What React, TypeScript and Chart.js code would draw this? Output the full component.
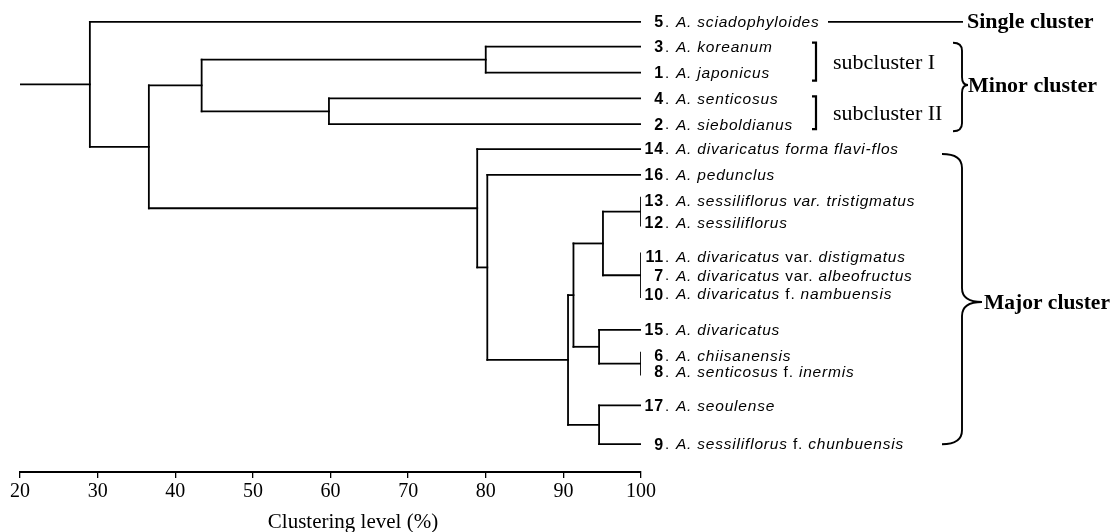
import React, { useEffect, useRef } from "react";
import { Chart, registerables } from "chart.js";

Chart.register(...registerables);

// ---- data ----
const leafIds = [5, 3, 1, 4, 2, 14, 16, 13, 12, 11, 7, 10, 15, 6, 8, 17, 9];
// vertical row position of each leaf (0 = top, 475 = axis)
const leafPos = [22, 47, 73, 99, 125, 150, 176, 202, 224, 258, 277, 296, 332, 358, 374, 408, 447];
// parts between | are upright, the rest italic
const leafNames = [
  "A. sciadophyloides",
  "A. koreanum",
  "A. japonicus",
  "A. senticosus",
  "A. sieboldianus",
  "A. divaricatus forma flavi-flos",
  "A. pedunclus",
  "A. sessiliflorus var. tristigmatus",
  "A. sessiliflorus",
  "A. divaricatus |var.| distigmatus",
  "A. divaricatus |var.| albeofructus",
  "A. divaricatus |f.| nambuensis",
  "A. divaricatus",
  "A. chiisanensis",
  "A. senticosus |f.| inermis",
  "A. seoulense",
  "A. sessiliflorus |f.| chunbuensis",
];
// merges: children (leaf ids or n<index>) and clustering level (%)
const mergeChildren = [
  ["13", "12"],
  ["11", "7", "10"],
  ["6", "8"],
  ["n0", "n1"],
  ["15", "n2"],
  ["n3", "n4"],
  ["17", "9"],
  ["n5", "n6"],
  ["16", "n7"],
  ["14", "n8"],
  ["3", "1"],
  ["4", "2"],
  ["n10", "n11"],
  ["n12", "n9"],
  ["5", "n13"],
];
const mergeLevels = [100, 100, 100, 95.1, 94.6, 91.3, 94.6, 90.6, 80.2, 78.9, 80.0, 59.8, 43.4, 36.6, 29.0];
const xTicks = [20, 30, 40, 50, 60, 70, 80, 90, 100];
const axisTitle = "Clustering level (%)";
const clusterLabels = ["Single cluster", "Minor cluster", "Major cluster"];
const subclusterLabels = ["subcluster I", "subcluster II"];

const SANS = '"Liberation Sans", Arial, sans-serif';
const SERIF = '"Liberation Serif", "Times New Roman", serif';

type P = { x: number; y: number };

function buildSegments(): P[][] {
  const pos: Record<string, P> = {};
  leafIds.forEach((id, i) => (pos[String(id)] = { x: 100, y: leafPos[i] }));
  const segs: P[][] = [];
  mergeChildren.forEach((ch, i) => {
    const h = mergeLevels[i];
    const kids = ch.map((c) => pos[c]);
    const ys = kids.map((k) => k.y);
    const top = Math.min(...ys);
    const bot = Math.max(...ys);
    const ext = h >= 100 ? 3 : 0;
    segs.push([
      { x: h, y: top - ext },
      { x: h, y: bot + ext },
    ]);
    kids.forEach((k) => {
      if (k.x > h) segs.push([{ x: h, y: k.y }, { x: k.x, y: k.y }]);
    });
    pos["n" + i] = { x: h, y: (top + bot) / 2 };
  });
  const root = pos["n" + (mergeChildren.length - 1)];
  segs.push([
    { x: xTicks[0], y: root.y },
    { x: root.x, y: root.y },
  ]);
  return segs;
}

function drawBrace(ctx: CanvasRenderingContext2D, x: number, yTop: number, yBot: number, yTip: number, w: number, tip: number, r: number) {
  ctx.beginPath();
  ctx.moveTo(x - w, yTop);
  ctx.quadraticCurveTo(x, yTop, x, yTop + r);
  ctx.lineTo(x, yTip - r);
  ctx.quadraticCurveTo(x, yTip, x + tip, yTip);
  ctx.moveTo(x + tip, yTip);
  ctx.quadraticCurveTo(x, yTip, x, yTip + r);
  ctx.lineTo(x, yBot - r);
  ctx.quadraticCurveTo(x, yBot, x - w, yBot);
  ctx.stroke();
}

function drawBracket(ctx: CanvasRenderingContext2D, x: number, yTop: number, yBot: number) {
  ctx.beginPath();
  ctx.moveTo(x - 4, yTop);
  ctx.lineTo(x, yTop);
  ctx.lineTo(x, yBot);
  ctx.lineTo(x - 4, yBot);
  ctx.stroke();
}

const annotationPlugin = {
  id: "dendroText",
  afterDraw(chart: any) {
    const ctx: CanvasRenderingContext2D = chart.ctx;
    const xs = chart.scales.x;
    const ys = chart.scales.y;
    ctx.save();
    ctx.fillStyle = "#000";
    ctx.strokeStyle = "#000";
    ctx.textBaseline = "middle";
    (ctx as any).letterSpacing = "0.8px";

    // leaf labels
    const numRight = xs.getPixelForValue(100) + 23;
    leafIds.forEach((id, i) => {
      const y = ys.getPixelForValue(leafPos[i]) + 1;
      ctx.font = `bold 16px ${SANS}`;
      ctx.textAlign = "right";
      ctx.fillText(String(id), numRight, y);
      ctx.textAlign = "left";
      let x = numRight + 1;
      ctx.font = `15px ${SANS}`;
      ctx.fillText(". ", x, y);
      x += ctx.measureText(". ").width + 1;
      const parts = leafNames[i].split("|");
      parts.forEach((p, k) => {
        ctx.font = (k % 2 === 0 ? "italic " : "") + `15.5px ${SANS}`;
        ctx.fillText(p, x, y);
        x += ctx.measureText(p).width;
      });
    });
    (ctx as any).letterSpacing = "0px";

    // single cluster
    const y5 = ys.getPixelForValue(leafPos[0]);
    ctx.lineWidth = 1.8;
    ctx.beginPath();
    ctx.moveTo(828, y5);
    ctx.lineTo(963, y5);
    ctx.stroke();
    ctx.font = `bold 22px ${SERIF}`;
    ctx.fillText(clusterLabels[0], 967, y5);

    // subclusters
    ctx.lineWidth = 2.2;
    const y3 = ys.getPixelForValue(leafPos[1]);
    const y1 = ys.getPixelForValue(leafPos[2]);
    const y4 = ys.getPixelForValue(leafPos[3]);
    const y2 = ys.getPixelForValue(leafPos[4]);
    drawBracket(ctx, 816, y3 - 4, y1 + 8);
    drawBracket(ctx, 816, y4 - 2, y2 + 5);
    ctx.font = `22px ${SERIF}`;
    ctx.fillText(subclusterLabels[0], 833, (y3 + y1) / 2 + 4);
    ctx.fillText(subclusterLabels[1], 833, (y4 + y2) / 2 + 3);

    // minor brace
    ctx.lineWidth = 1.9;
    drawBrace(ctx, 962, y3 - 4, y2 + 7, 85, 9, 6, 8);
    ctx.font = `bold 22px ${SERIF}`;
    ctx.fillText(clusterLabels[1], 968, 86);

    // major brace
    const y14 = ys.getPixelForValue(leafPos[5]);
    const y9 = ys.getPixelForValue(leafPos[16]);
    drawBrace(ctx, 962, y14 + 5, y9, 302, 20, 20, 14);
    ctx.font = `bold 21.5px ${SERIF}`;
    ctx.fillText(clusterLabels[2], 984, 303);

    // axis title
    ctx.font = `21px ${SERIF}`;
    ctx.textAlign = "center";
    ctx.fillText(axisTitle, 353, 522);
    ctx.restore();
  },
};

export default function App() {
  const ref = useRef<HTMLCanvasElement | null>(null);
  useEffect(() => {
    if (!ref.current) return;
    const segs = buildSegments();
    const chart = new Chart(ref.current, {
      type: "scatter",
      data: {
        datasets: segs.map((s) => ({
          data: s,
          showLine: true,
          borderColor: "#000",
          borderWidth: 1.8,
          borderCapStyle: "square",
          pointRadius: 0,
          pointHoverRadius: 0,
        })),
      },
      options: {
        animation: false,
        responsive: true,
        maintainAspectRatio: false,
        layout: { padding: { left: 20, right: 473, top: 0, bottom: 26 } },
        plugins: { legend: { display: false }, tooltip: { enabled: false } },
        scales: {
          x: {
            type: "linear",
            min: 20,
            max: 100,
            afterBuildTicks: (s: any) => {
              s.ticks = xTicks.map((v) => ({ value: v }));
            },
            ticks: {
              color: "#000",
              font: { family: SERIF, size: 20 },
              padding: 2,
              maxRotation: 0,
              autoSkip: false,
            },
            grid: {
              display: true,
              drawOnChartArea: false,
              drawTicks: true,
              tickLength: 6,
              color: "#000",
              lineWidth: 1.3,
            },
            border: { display: true, color: "#000", width: 2 },
          },
          y: { type: "linear", min: 0, max: 475, reverse: true, display: false },
        },
      } as any,
      plugins: [annotationPlugin],
    });
    return () => chart.destroy();
  }, []);
  return (
    <div style={{ position: "fixed", left: 0, top: 0, width: 1114, height: 532, background: "#fff" }}>
      <canvas ref={ref} />
    </div>
  );
}
